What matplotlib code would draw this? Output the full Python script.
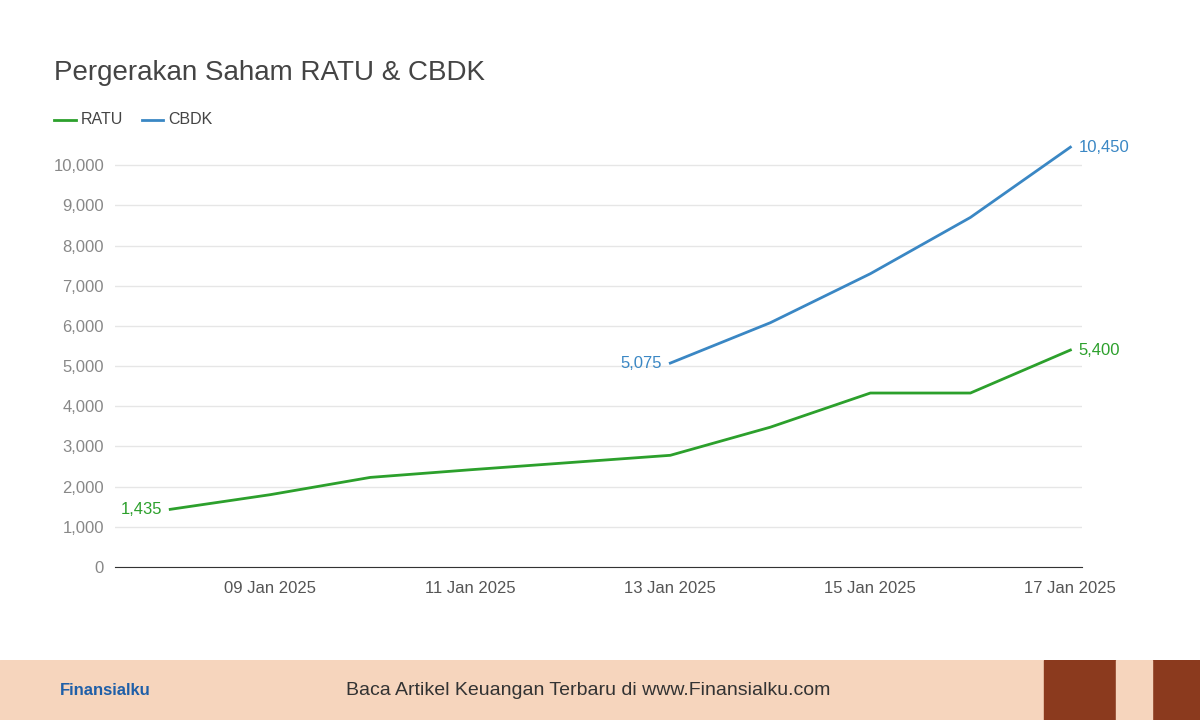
import matplotlib
matplotlib.use("Agg")
import matplotlib.pyplot as plt
import matplotlib.dates as mdates
from datetime import date

plt.rcParams["font.family"] = "Liberation Sans"

dates = [date(2025,1,d) for d in range(8,18)]
ratu = [1435, 1800, 2230, 2420, 2600, 2780, 3480, 4330, 4330, 5400]
cbdk_dates = [date(2025,1,d) for d in range(13,18)]
cbdk = [5075, 6080, 7300, 8700, 10450]
tick_dates = [date(2025,1,d) for d in (9,11,13,15,17)]
yticks = list(range(0, 10001, 1000))

green = "#2ca02c"; blue = "#3a87c4"
fig = plt.figure(figsize=(12,7.2), dpi=100)
ax = fig.add_axes([0.096, 0.2125, 0.806, 0.565])
ax.plot(dates, ratu, color=green, lw=2, clip_on=False)
ax.plot(cbdk_dates, cbdk, color=blue, lw=2, clip_on=False)
ax.set_xlim(mdates.date2num(date(2025,1,8))-0.55, mdates.date2num(date(2025,1,17))+0.12)
ax.set_ylim(0, 10125)
ax.set_yticks(yticks)
ax.set_yticklabels([f"{v:,}" for v in yticks])
ax.set_xticks(tick_dates)
ax.set_xticklabels([d.strftime("%d Jan %Y") for d in tick_dates])
ax.grid(axis="y", color="#e6e6e6", lw=1)
for s in ["top","right","left"]:
    ax.spines[s].set_visible(False)
ax.spines["bottom"].set_color("#333333")
ax.tick_params(length=0, colors="#888888", labelsize=12)
ax.tick_params(axis="x", pad=10, colors="#555555")
ax.tick_params(axis="y", pad=8)
kw = dict(textcoords="offset points", va="center", fontsize=12, annotation_clip=False)
ax.annotate(f"{ratu[0]:,}", (dates[0], ratu[0]), xytext=(-6,0), ha="right", color=green, **kw)
ax.annotate(f"{ratu[-1]:,}", (dates[-1], ratu[-1]), xytext=(6,0), ha="left", color=green, **kw)
ax.annotate(f"{cbdk[0]:,}", (cbdk_dates[0], cbdk[0]), xytext=(-6,0), ha="right", color=blue, **kw)
ax.annotate(f"{cbdk[-1]:,}", (cbdk_dates[-1], cbdk[-1]), xytext=(6,0), ha="left", color=blue, **kw)

fig.text(0.045, 0.898, "Pergerakan Saham RATU & CBDK", fontsize=20, color="#444444", va="center")
fig.add_artist(plt.Line2D([0.045,0.063],[0.834,0.834], color=green, lw=2))
fig.text(0.067, 0.834, "RATU", fontsize=11.5, color="#444444", va="center")
fig.add_artist(plt.Line2D([0.118,0.136],[0.834,0.834], color=blue, lw=2))
fig.text(0.140, 0.834, "CBDK", fontsize=11.5, color="#444444", va="center")

bx = fig.add_axes([0,0,1,0.083])
bx.set_xlim(0,1); bx.set_ylim(0,1); bx.axis("off")
bx.add_patch(plt.Rectangle((0,0),1,1,color="#f6d5bd"))
bx.add_patch(plt.Rectangle((0.87,0),0.13,1,color="#8b3a1e"))
bx.add_patch(plt.Rectangle((0.93,0),0.03,1,color="#f6d5bd"))
bx.text(0.05,0.5,"Finansialku", fontsize=12, color="#1f5fa8", fontweight="bold", va="center")
bx.text(0.49,0.5,"Baca Artikel Keuangan Terbaru di www.Finansialku.com", fontsize=14, color="#333333", ha="center", va="center")
fig.savefig("out.png")
